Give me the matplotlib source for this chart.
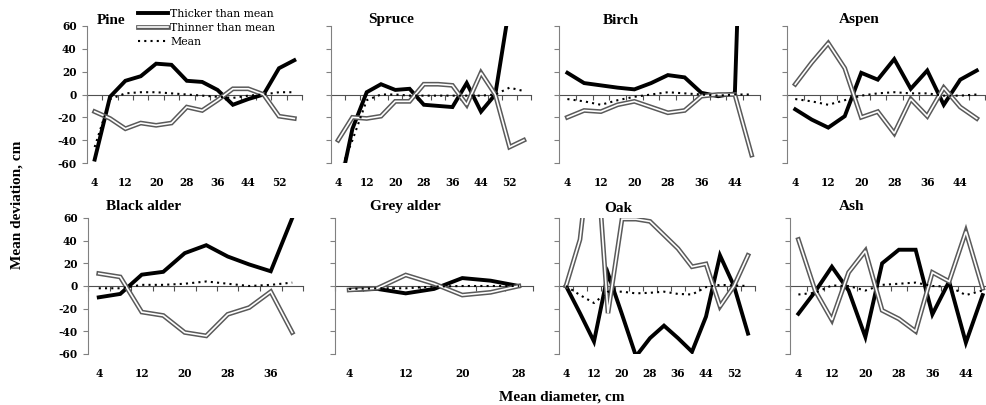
import numpy as np
import matplotlib.pyplot as plt
from matplotlib.lines import Line2D

W, H = 986, 405

# diameter classes, cm
d56 = [4, 8, 12, 16, 20, 24, 28, 32, 36, 40, 44, 48, 52, 56]
d48 = [4, 8, 12, 16, 20, 24, 28, 32, 36, 40, 44, 48]
d40 = [4, 8, 12, 16, 20, 24, 28, 32, 36, 40]
d28 = [4, 8, 12, 16, 20, 24, 28]

pine_thick = [-57, -2, 12, 16, 27, 26, 12, 11, 4, -9, -4, 0, 23, 30]
pine_thin = [-15, -21, -30, -25, -27, -25, -11, -14, -5, 5, 5, 0, -19, -21]
pine_mean = [-46, -4, 1, 2, 2, 1, 0, -1, -2, -3, -1, 0, 2, 2]

spruce_thick = [-89, -30, 2, 9, 4, 5, -9, -10, -11, 10, -15, 0, 78, np.nan]
spruce_thin = [-40, -20, -21, -19, -6, -6, 9, 9, 8, -9, 19, 0, -46, -40]
spruce_mean = [-72, -40, -5, 0, 0, -1, -1, -1, -1, -1, -1, 0, 6, 3]

birch_thick = [19, 10, 8, 6, 4.5, 10, 17, 15, 1.5, -1.5, 1, 450]
birch_thin = [-20, -14, -15, -9, -6, -11, -16, -14, -1.5, 0, 0, -53]
birch_mean = [-4, -6, -9, -5, -2, 0, 2, 1, 0, -1, 0, 0]

aspen_thick = [-13, -22, -29, -19, 19, 13, 31, 5, 21, -9, 13, 21]
aspen_thin = [9, 28, 45, 23, -20, -15, -34, -4, -19, 6, -11, -21]
aspen_mean = [-4, -6, -9, -5, -1, 1, 2, 1, 1, -1, -1, 0]

balder_thick = [-10, -7, 10, 12.5, 29, 36, 26, 19, 13, 60]
balder_thin = [11, 8, -23, -26, -41, -44, -25, -19, -5, -41]
balder_mean = [-2, -2, 1, 1, 2, 4, 2, 0, 1, 3]

galder_thick = [-3.5, -2.6, -6.5, -2.6, 7, 4.7, 0]
galder_thin = [-3.5, -2, 9.7, 2, -8, -5.6, 0]
galder_mean = [-2.6, -2, -2, -0.5, 0, 0, 0]

oak_thick = [0, -24, -49, 11, -25, -62, -46, -35, -46, -58, -27, 27, 0, -42]
oak_thin = [0, 41, 150, -24, 59, 59, 57, 45, 33, 17, 19.5, -18, 0, 27]
oak_mean = [0, -8, -15, -5, -5, -6.5, -6, -5, -7, -7.5, -1, 1, 0.5, 0]

ash_thick = [-24.5, -5, 17, -4, -45, 20, 32, 32, -25, 4, -50, -8]
ash_thin = [41, -4, -30, 12, 31, -21.5, -29, -40, 12, 4, 48, -2]
ash_mean = [-7.5, -6, 0.5, 0, -4, 1, 2, 3, 0, -0.5, -8, -4]

# name, left px, right px, row, x, thick, thin, mean, title x, title y, title align
panels = [
    ('Pine', 87, 302, 0, d56, pine_thick, pine_thin, pine_mean, 97, 20, 'left'),
    ('Spruce', 331, 531, 0, d56, spruce_thick, spruce_thin, spruce_mean, 391, 20, 'center'),
    ('Birch', 559, 760, 0, d48, birch_thick, birch_thin, birch_mean, 621, 20, 'center'),
    ('Aspen', 787, 985, 0, d48, aspen_thick, aspen_thin, aspen_mean, 859, 20, 'center'),
    ('Black alder', 88, 303, 1, d40, balder_thick, balder_thin, balder_mean, 144, 207, 'center'),
    ('Grey alder', 335, 533, 1, d28, galder_thick, galder_thin, galder_mean, 405, 207, 'center'),
    ('Oak', 559, 755, 1, d56, oak_thick, oak_thin, oak_mean, 618, 209, 'center'),
    ('Ash', 790, 991, 1, d48, ash_thick, ash_thin, ash_mean, 852, 207, 'center'),
]
rows = [(26, 163), (218, 354)]

serif = 'Liberation Serif'
tickfont = dict(family='DejaVu Serif', weight='bold', size=7.6)

thick_kw = dict(color='black', lw=2.8, solid_joinstyle='miter', zorder=3)
thin_out_kw = dict(color='#5a5a5a', lw=3.4, solid_joinstyle='miter', zorder=4)
thin_in_kw = dict(color='white', lw=1.2, solid_joinstyle='miter', zorder=5)
mean_kw = dict(color='black', lw=1.5, linestyle=(0, (1, 2)), zorder=6)

fig = plt.figure(figsize=(W / 100, H / 100), dpi=100)

for (name, x0, x1, row, x, thick, thin, mean, tx, ty, ha) in panels:
    top, bot = rows[row]
    ax = fig.add_axes([x0 / W, 1 - bot / H, (x1 - x0) / W, (bot - top) / H])
    ax.plot(x, thick, **thick_kw)
    ax.plot(x, thin, **thin_out_kw)
    ax.plot(x, thin, **thin_in_kw)
    ax.plot(x, mean, **mean_kw)

    ax.set_xlim(x[0] - 2, x[-1] + 2)
    ax.set_ylim(-60, 60)
    ax.patch.set_visible(False)
    for s in ['top', 'right']:
        ax.spines[s].set_visible(False)
    ax.spines['left'].set_color('#808080')
    ax.spines['bottom'].set_position(('data', 0))
    ax.spines['bottom'].set_color('#505050')
    ax.spines['bottom'].set_zorder(2)

    ax.set_xticks(np.arange(x[0] - 2, x[-1] + 3, 4))
    ax.set_xticklabels([])
    ax.tick_params(axis='x', direction='out', length=3.5, width=0.8, color='#505050')
    ax.set_yticks(np.arange(-60, 61, 20))
    ax.tick_params(axis='y', direction='out', length=3.5, width=0.8, color='#808080', pad=4)
    if x0 < 100:
        ax.set_yticklabels([str(v) for v in range(-60, 61, 20)], fontdict=tickfont)
    else:
        ax.set_yticklabels([])

    # diameter labels under the plot, every second class
    for v in x[::2]:
        ax.text(v, -0.14, str(v), transform=ax.get_xaxis_transform(),
                ha='center', va='center', **tickfont)

    fig.text(tx / W, 1 - ty / H, name, ha=ha, va='center',
             family=serif, weight='bold', size=11)

handles = [
    Line2D([], [], **thick_kw),
    (Line2D([], [], **thin_out_kw), Line2D([], [], **thin_in_kw)),
    Line2D([], [], **mean_kw),
]
fig.legend(handles, ['Thicker than mean', 'Thinner than mean', 'Mean'],
           loc='upper left', bbox_to_anchor=(138 / W, 1 - 9 / H),
           frameon=False, borderpad=0, borderaxespad=0,
           handlelength=2.8, handletextpad=0.2, labelspacing=0.35,
           prop=dict(family='DejaVu Serif', size=7.8))

fig.text(17 / W, 1 - 205 / H, 'Mean deviation, cm', rotation=90,
         ha='center', va='center', family=serif, weight='bold', size=11)
fig.text(562 / W, 1 - 397 / H, 'Mean diameter, cm',
         ha='center', va='center', family=serif, weight='bold', size=11)

fig.savefig('out.png', dpi=100)
